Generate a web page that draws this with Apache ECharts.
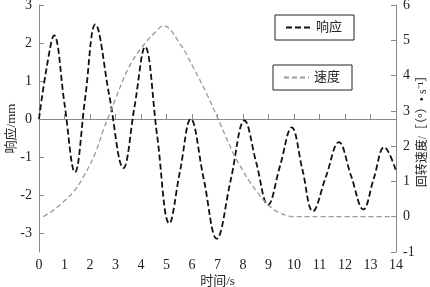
<!DOCTYPE html>
<html>
<head>
<meta charset="utf-8">
<script src="https://cdn.jsdelivr.net/npm/echarts@6/dist/echarts.min.js"></script>
<style>html,body{margin:0;padding:0;background:#fff}#c{width:430px;height:287px}</style>
</head>
<body>
<div id="c"></div>
<script>
// response (mm) : [time s, value]
var responseT = [0, 0.3, 0.59, 1.0, 1.41, 1.81, 2.21, 2.76, 3.31, 3.74, 4.16, 4.63, 5.11, 5.53, 5.95, 6.46, 6.97, 7.52, 8.06, 8.52, 8.98, 9.45, 9.91, 10.33, 10.74, 11.25, 11.76, 12.24, 12.72, 13.13, 13.54, 14.0];
var responseV = [0, 1.35, 2.2, 0.4, -1.4, 0.55, 2.49, 0.6, -1.29, 0.3, 1.9, -0.42, -2.75, -1.37, 0, -1.58, -3.15, -1.6, -0.04, -1.15, -2.26, -1.24, -0.22, -1.33, -2.43, -1.52, -0.61, -1.5, -2.38, -1.56, -0.74, -1.36];
// rotation speed : [time s, value]
var speedT = [0.17, 0.5, 0.82, 1.0, 1.35, 1.74, 2.2, 2.52, 2.98, 3.5, 4.03, 4.55, 4.88, 5.53, 6.05, 6.58, 7.1, 7.62, 8.0, 8.3, 8.5, 8.95, 9.4, 9.8, 10, 11, 12, 13, 14];
var speedV = [0, 0.15, 0.33, 0.45, 0.7, 1.13, 1.79, 2.45, 3.3, 4.2, 4.8, 5.22, 5.41, 4.9, 4.23, 3.48, 2.64, 1.8, 1.3, 0.95, 0.75, 0.36, 0.12, 0.02, 0, 0, 0, 0, 0];
var xTicks = [0,1,2,3,4,5,6,7,8,9,10,11,12,13,14];
var leftTicks = [-3,-2,-1,0,1,2,3];
var rightTicks = [-1,0,1,2,3,4,5,6];

function pairs(t, v){ return t.map(function(x,i){ return [x, v[i]]; }); }

var serif = 'Liberation Serif, Noto Sans CJK SC, serif';
var axisCol = '#8a8a8a';
var chart = echarts.init(document.getElementById('c'));
var legendBase = {
  orient: 'horizontal',
  borderColor: '#222', borderWidth: 1,
  padding: [6, 12, 6, 10],
  itemWidth: 25, itemHeight: 12,
  itemStyle: {opacity: 0},
  textStyle: {fontFamily: serif, fontSize: 13, color: '#222'},
  selectedMode: false
};
chart.setOption({
  animation: false,
  backgroundColor: '#fff',
  grid: {left: 39, right: 34, top: 5, bottom: 35, containLabel: false, outerBoundsMode: 'none'},
  legend: [
    Object.assign({}, legendBase, {data: ['响应'], left: 275, top: 15}),
    Object.assign({}, legendBase, {data: ['速度'], left: 273, top: 65})
  ],
  xAxis: {
    type: 'value', min: 0, max: 14, interval: 1,
    name: '时间/s', nameLocation: 'middle', nameGap: 23, nameMoveOverlap: false,
    nameTextStyle: {fontFamily: serif, fontSize: 13, color: '#222'},
    axisLine: {lineStyle: {color: axisCol}},
    axisTick: {inside: true, length: 5, lineStyle: {color: axisCol}, customValues: xTicks},
    axisLabel: {fontFamily: serif, fontSize: 14, color: '#222', margin: 6, customValues: xTicks},
    splitLine: {show: false}
  },
  yAxis: [
    {
      type: 'value', min: -3.5, max: 3, position: 'left',
      name: '响应/mm', nameLocation: 'middle', nameGap: 21, nameRotate: 90, nameMoveOverlap: false,
      nameTextStyle: {fontFamily: serif, fontSize: 13, color: '#222'},
      axisLine: {show: true, lineStyle: {color: axisCol}},
      axisTick: {show: true, inside: true, length: 5, lineStyle: {color: axisCol}, customValues: leftTicks},
      axisLabel: {fontFamily: serif, fontSize: 14, color: '#222', margin: 7, customValues: leftTicks},
      splitLine: {show: false}
    },
    {
      type: 'value', min: -1, max: 6, interval: 1, position: 'right',
      name: '回转速度/［（°）• s⁻¹］', nameLocation: 'middle', nameGap: 21, nameRotate: 90, nameMoveOverlap: false,
      nameTextStyle: {fontFamily: serif, fontSize: 12, color: '#222'},
      axisLine: {show: true, lineStyle: {color: axisCol}},
      axisTick: {show: true, inside: true, length: 5, lineStyle: {color: axisCol}, customValues: rightTicks},
      axisLabel: {fontFamily: serif, fontSize: 14, color: '#222', margin: 7, customValues: rightTicks},
      splitLine: {show: false}
    }
  ],
  series: [
    {
      name: '响应', type: 'line', yAxisIndex: 0, data: pairs(responseT, responseV),
      smooth: 0.4, showSymbol: false, symbol: 'none',
      lineStyle: {color: '#111', width: 1.8, type: [6, 3]},
      itemStyle: {color: '#111'}
    },
    {
      name: '速度', type: 'line', yAxisIndex: 1, data: pairs(speedT, speedV),
      smooth: 0.4, showSymbol: false, symbol: 'none',
      lineStyle: {color: '#999', width: 1.3, type: [5, 3]},
      itemStyle: {color: '#999'}
    }
  ]
});
</script>
</body>
</html>
